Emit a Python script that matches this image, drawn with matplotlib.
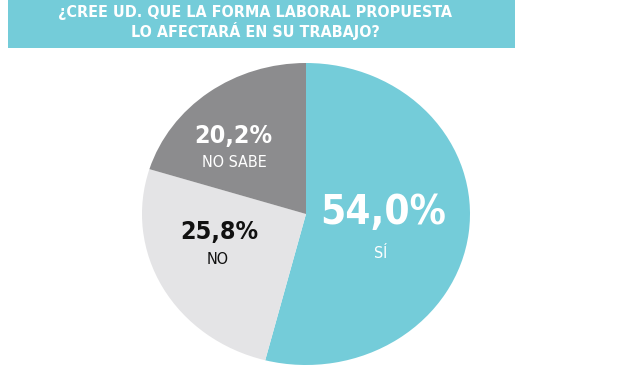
import matplotlib
matplotlib.use('Agg')
from matplotlib import pyplot as plt
from matplotlib.patches import Rectangle

title_lines = ['¿CREE UD. QUE LA FORMA LABORAL PROPUESTA', 'LO AFECTARÁ EN SU TRABAJO?']
answers = ['SÍ', 'NO', 'NO SABE']
shares = [54.0, 25.8, 20.2]
colors = ['#74CCD9', '#E4E4E6', '#8C8C8E']
pct_colors = ['white', '#111111', 'white']
name_colors = ['white', '#111111', 'white']

W, H = 620, 370
plt.rcParams['font.family'] = ['DejaVu Sans']
plt.rcParams['font.stretch'] = 'condensed'

fig = plt.figure(figsize=(W / 100, H / 100), dpi=100)
fig.patch.set_facecolor('white')

# header band
fig.patches.append(Rectangle((8 / W, 1 - 48 / H), 507 / W, 48 / H,
                             transform=fig.transFigure, facecolor='#74CCD9',
                             edgecolor='none'))
fig.text(255 / W, 1 - 12 / H, title_lines[0], color='white', fontsize=11.5,
         fontweight='bold', ha='center', va='center', fontstretch='condensed')
fig.text(255 / W, 1 - 31 / H, title_lines[1], color='white', fontsize=11.5,
         fontweight='bold', ha='center', va='center', fontstretch='condensed')

# pie, slightly wider than tall like the original
ax = fig.add_axes([142 / W, 1 - 365 / H, 328 / W, 302 / H])
ax.pie(shares, colors=colors, startangle=90, counterclock=False,
       wedgeprops=dict(linewidth=0))
ax.set_aspect('auto')
ax.set_xlim(-1, 1)
ax.set_ylim(-1, 1)
ax.axis('off')

# labels (pixel positions)
pct_pos = [(383, 213), (219, 232), (233, 136)]
name_pos = [(381, 253), (218, 260), (234, 163)]
pct_size = [29, 18, 18]
for i in range(len(answers)):
    x, y = pct_pos[i]
    fig.text(x / W, 1 - y / H, f'{shares[i]:.1f}%'.replace('.', ','),
             color=pct_colors[i], fontsize=pct_size[i], fontweight='bold',
             ha='center', va='center', fontstretch='condensed')
    x, y = name_pos[i]
    fig.text(x / W, 1 - y / H, answers[i], color=name_colors[i], fontsize=11.5,
             ha='center', va='center', fontstretch='condensed')

plt.savefig('out.png', dpi=100)
